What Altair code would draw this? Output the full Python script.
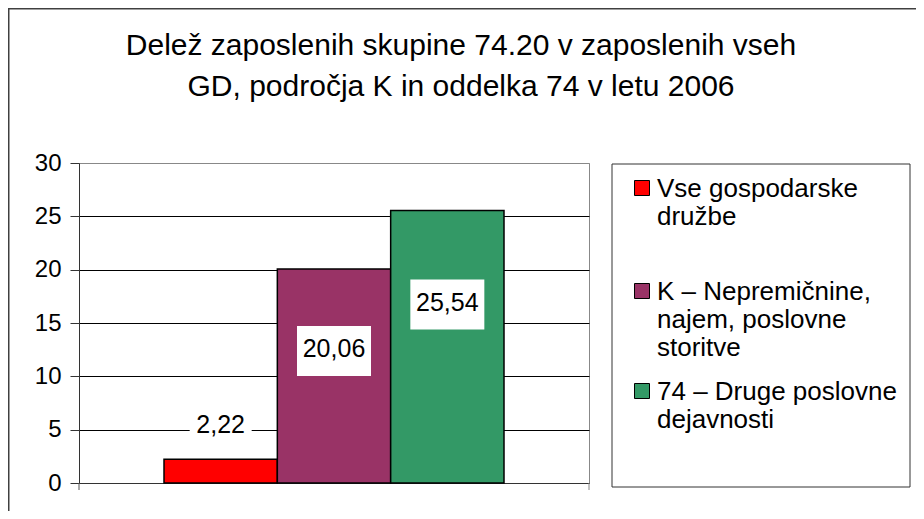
import altair as alt
import pandas as pd

# ---- data ----
SERIES = [
    "Vse gospodarske družbe",
    "K – Nepremičnine, najem, poslovne storitve",
    "74 – Druge poslovne dejavnosti",
]
VALUES = [2.22, 20.06, 25.54]
COLORS = ["#FF0000", "#993366", "#339966"]
LEGEND_TEXT = [
    "Vse gospodarske|družbe",
    "K – Nepremičnine,|najem, poslovne|storitve",
    "74 – Druge poslovne|dejavnosti",
]
Y_TICKS = [0, 5, 10, 15, 20, 25, 30]
TITLE_LINES = [
    "Delež zaposlenih skupine 74.20 v zaposlenih vseh",
    "GD, področja K in oddelka 74 v letu 2006",
]

# ---- styling / layout constants ----
FONT = "Liberation Sans"
W, H = 510, 320
LABEL_DY = [-34, 80, 92]          # data label offset from bar top (px)
BOX_W = [62, 74, 74]              # white label box width (px)
BOX_H = 50
LEG_SYM_X = 563
LEG_TXT_X = 578
LEG_SYM_Y = [25, 128, 228]
LEG_TXT_Y = [34, 137, 237]

df = pd.DataFrame({"series": SERIES, "value": VALUES, "legend": LEGEND_TEXT})
title_df = pd.DataFrame({"title": ["|".join(TITLE_LINES)]})

color = alt.Color("series:N", scale=alt.Scale(domain=SERIES, range=COLORS), legend=None)
X = alt.X(
    "series:N",
    sort=SERIES,
    scale=alt.Scale(domain=SERIES, paddingInner=0, paddingOuter=0.75),
    axis=alt.Axis(title=None, labels=False, ticks=False, domain=True,
                  domainColor="#333333", domainWidth=1),
)
Y = alt.Y(
    "value:Q",
    scale=alt.Scale(domain=[0, 30], nice=False),
    axis=alt.Axis(
        title=None, values=Y_TICKS, labelFontSize=24, labelFont=FONT,
        labelColor="black", tickSize=9, tickColor="#333333", labelPadding=9,
        domainColor="#333333", domainWidth=1, grid=True,
        gridColor={"condition": {"test": "datum.value >= 30", "value": "#888888"},
                   "value": "#000000"},
        gridWidth=1,
    ),
)

base = alt.Chart(df)
deco = alt.Chart(pd.DataFrame({"k": [0]}))

# outer chart frame: only its top and left edges fall inside the picture
frame_top = deco.mark_rule(color="#404040", strokeWidth=1.5).encode(
    x=alt.value(-71), x2=alt.value(837), y=alt.value(-154.25)
)
frame_left = deco.mark_rule(color="#404040", strokeWidth=1.5).encode(
    x=alt.value(-70.25), y=alt.value(-155), y2=alt.value(348)
)
legend_box = deco.mark_rect(fill="white", stroke="#333333", strokeWidth=1).encode(
    x=alt.value(533), x2=alt.value(831), y=alt.value(1), y2=alt.value(324)
)
end_ticks = [
    deco.mark_rule(color="#555555").encode(x=alt.value(0), y=alt.value(H), y2=alt.value(H + 7)),
    deco.mark_rule(color="#888888").encode(x=alt.value(W), y=alt.value(H), y2=alt.value(H + 7)),
]
title = (
    alt.Chart(title_df)
    .transform_calculate(lines="split(datum.title, '|')")
    .mark_text(align="center", baseline="alphabetic", fontSize=30, lineHeight=41,
               font=FONT, color="black")
    .encode(x=alt.value(382), y=alt.value(-108), text="lines:N")
)

bars = base.mark_bar(stroke="black", strokeWidth=1.5).encode(x=X, y=Y, color=color)

layers = [frame_top, frame_left, legend_box, title] + end_ticks + [bars]
for i, s in enumerate(SERIES):
    sub = base.transform_filter(alt.datum.series == s).transform_calculate(
        lbl="replace(format(datum.value, '.2f'), '.', ',')"
    )
    half = BOX_H / BOX_W[i]
    path = f"M-1,-{half:.3f}H1V{half:.3f}H-1Z"
    layers.append(
        sub.mark_point(shape=path, size=BOX_W[i] ** 2, filled=True, color="white",
                       opacity=1, strokeWidth=0, yOffset=LABEL_DY[i] + 2)
        .encode(x=X, y=Y)
    )
    layers.append(
        sub.mark_text(dy=LABEL_DY[i], fontSize=25, font=FONT, baseline="middle",
                      color="black")
        .encode(x=X, y=Y, text="lbl:N")
    )
    layers.append(
        sub.mark_point(shape="square", size=225, filled=True, opacity=1,
                       stroke="black", strokeWidth=1)
        .encode(x=alt.value(LEG_SYM_X), y=alt.value(LEG_SYM_Y[i]), color=color)
    )
    layers.append(
        sub.transform_calculate(lines="split(datum.legend, '|')")
        .mark_text(align="left", baseline="alphabetic", fontSize=26, lineHeight=28,
                   font=FONT, color="black")
        .encode(x=alt.value(LEG_TXT_X), y=alt.value(LEG_TXT_Y[i]), text="lines:N")
    )

chart = (
    alt.layer(*layers)
    .properties(
        width=W,
        height=H,
        autosize=alt.AutoSizeParams(type="none"),
        padding={"left": 71, "top": 155, "right": 327, "bottom": 28},
    )
    .configure(background="white")
    .configure_view(stroke="#888888", strokeWidth=1)
)

chart.save("out.html", embed_options={"renderer": "svg", "actions": False})
